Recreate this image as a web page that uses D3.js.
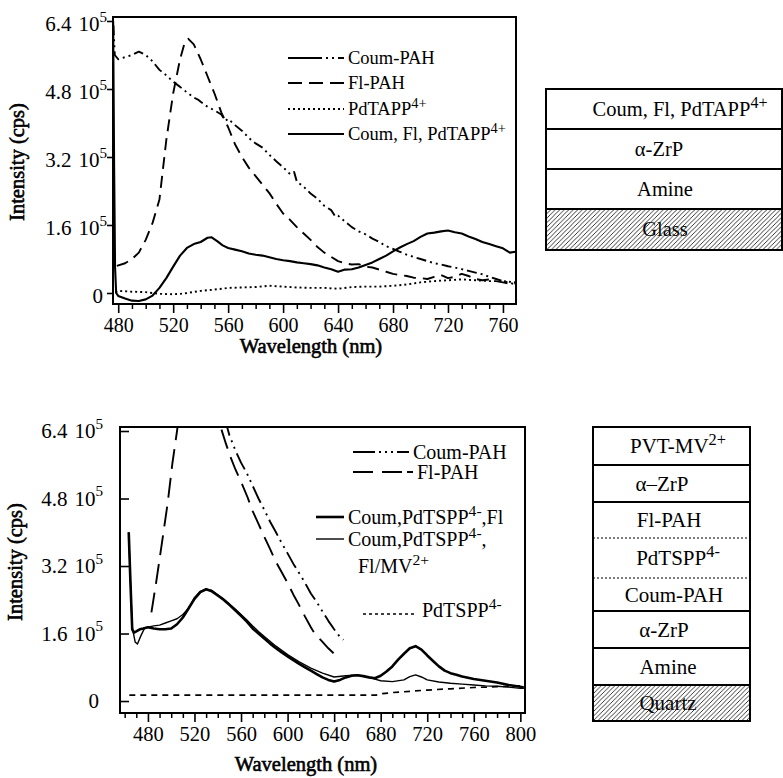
<!DOCTYPE html>
<html><head><meta charset="utf-8">
<script src="https://cdn.jsdelivr.net/npm/d3@7"></script>
<style>
html,body{margin:0;padding:0;background:#fff;}
svg{display:block;}
svg text{font-family:"Liberation Serif","DejaVu Serif",serif;fill:#000;}
</style></head>
<body><svg id="c" width="783" height="778" font-family="Liberation Serif"></svg>
<script>
// ---------------- DATA (intensity in units of 10^5 cps, wavelength in nm) ----------------
const topXTicks = [480, 520, 560, 600, 640, 680, 720, 760];
const botXTicks = [480, 520, 560, 600, 640, 680, 720, 760, 800];
const yTicks = [0, 1.6, 3.2, 4.8, 6.4];
const yTickLabels = ["0", "1.6", "3.2", "4.8", "6.4"];

const topCoumPAH = [[476.5,6.3],[477.5,5.6],[480,5.5],[485,5.55],[490,5.6],[495,5.68],[500,5.6],[505,5.45],[510,5.25],[515,5.12],[520,4.97],[525,4.85],[530,4.72],[535,4.6],[538,4.55],[540,4.5],[545,4.38],[550,4.3],[555,4.2],[558,4.05],[560,4.1],[565,3.95],[570,3.82],[575,3.65],[580,3.52],[585,3.42],[590,3.25],[595,3.1],[600,2.96],[605,2.8],[608,2.85],[610,2.62],[615,2.5],[620,2.34],[625,2.22],[630,2.05],[635,1.95],[638,1.8],[640,1.82],[645,1.68],[650,1.55],[655,1.45],[660,1.38],[665,1.28],[670,1.2],[675,1.1],[680,1.04],[685,0.97],[690,0.9],[695,0.85],[700,0.8],[705,0.75],[710,0.7],[715,0.67],[720,0.63],[725,0.6],[730,0.56],[735,0.52],[740,0.48],[745,0.44],[750,0.38],[755,0.33],[760,0.28],[765,0.24],[769,0.2]];
const topFlPAH = [[479,0.64],[485,0.7],[490,0.8],[495,0.95],[500,1.25],[505,1.65],[510,2.2],[515,3.6],[520,4.7],[525,5.5],[528,5.85],[531,5.98],[535,5.85],[540,5.5],[545,5.1],[550,4.7],[555,4.25],[560,3.9],[565,3.5],[570,3.2],[575,2.95],[580,2.75],[585,2.55],[590,2.35],[595,2.1],[600,1.87],[605,1.72],[610,1.55],[615,1.4],[620,1.25],[625,1.08],[630,0.95],[635,0.85],[640,0.75],[645,0.7],[650,0.67],[655,0.68],[660,0.62],[665,0.6],[670,0.55],[675,0.5],[680,0.45],[685,0.42],[690,0.4],[695,0.36],[700,0.35],[705,0.33],[710,0.38],[715,0.42],[720,0.35],[725,0.38],[730,0.45],[735,0.4],[740,0.33],[745,0.3],[750,0.32],[755,0.28],[760,0.25],[765,0.22],[769,0.22]];
const topPdTAPP = [[478,0.02],[480,0.05],[490,0.03],[500,0.02],[510,-0.02],[520,-0.03],[525,-0.02],[530,0.0],[540,0.05],[550,0.08],[560,0.12],[570,0.13],[580,0.14],[590,0.17],[600,0.15],[610,0.13],[620,0.12],[630,0.12],[640,0.1],[650,0.14],[660,0.15],[670,0.15],[680,0.17],[690,0.2],[700,0.25],[710,0.28],[720,0.3],[730,0.32],[740,0.3],[750,0.28],[760,0.28],[769,0.25]];
const topCombined = [[476.3,6.4],[477,3.0],[477.7,0.6],[478.5,0.0],[480,-0.07],[485,-0.13],[490,-0.18],[495,-0.19],[500,-0.15],[505,-0.06],[510,0.12],[515,0.35],[520,0.62],[525,0.88],[530,1.06],[535,1.15],[540,1.2],[545,1.3],[548,1.31],[552,1.22],[556,1.12],[560,1.06],[565,1.02],[570,0.98],[575,0.93],[580,0.9],[585,0.88],[590,0.84],[595,0.8],[600,0.77],[605,0.75],[610,0.72],[615,0.7],[620,0.68],[625,0.65],[630,0.6],[635,0.56],[640,0.5],[645,0.55],[650,0.56],[655,0.6],[660,0.66],[665,0.72],[670,0.8],[675,0.88],[680,0.98],[685,1.07],[690,1.15],[695,1.22],[700,1.32],[705,1.4],[710,1.42],[715,1.45],[720,1.47],[725,1.43],[730,1.4],[735,1.33],[740,1.27],[745,1.2],[750,1.15],[755,1.1],[760,1.05],[765,0.95],[769,0.97]];

const botCoumPAH = [[546,6.7],[550,6.3],[555,5.95],[560,5.65],[565,5.4],[570,5.1],[575,4.8],[580,4.53],[585,4.25],[590,4.0],[595,3.74],[600,3.5],[605,3.25],[610,3.03],[615,2.8],[620,2.55],[625,2.35],[630,2.12],[635,1.9],[640,1.7],[645,1.52],[648,1.45]];
const botFlPAH = [[483,2.1],[487,2.8],[492,3.74],[497,4.7],[501,5.63],[505,6.4],[510,7.5],[525,9.0],[540,7.0],[543,6.45],[547,6.1],[551,5.78],[555,5.5],[560,5.2],[565.6,4.83],[570,4.5],[575,4.2],[580,3.89],[585,3.6],[590,3.3],[594,3.1],[600,2.8],[605,2.52],[609,2.32],[615,2.0],[620,1.75],[623,1.61],[630,1.4],[635,1.25],[640,1.12],[645,1.02]];
const botCoumPdFl = [[463.5,4.0],[465,2.8],[466.5,1.7],[468,1.62],[470,1.65],[473,1.7],[476,1.72],[480,1.75],[485,1.72],[490,1.7],[495,1.7],[500,1.72],[505,1.82],[510,1.98],[515,2.2],[520,2.42],[525,2.58],[530,2.65],[535,2.6],[540,2.5],[545,2.4],[550,2.28],[555,2.15],[560,2.02],[565,1.88],[570,1.72],[575,1.6],[580,1.48],[585,1.36],[590,1.25],[595,1.15],[600,1.06],[605,0.97],[610,0.88],[615,0.8],[620,0.72],[625,0.64],[630,0.56],[635,0.5],[640,0.46],[645,0.5],[650,0.56],[655,0.6],[660,0.61],[665,0.59],[670,0.56],[675,0.54],[680,0.6],[685,0.7],[690,0.82],[695,0.98],[700,1.12],[705,1.25],[710,1.3],[715,1.22],[720,1.08],[725,0.95],[730,0.82],[735,0.72],[740,0.66],[745,0.62],[750,0.58],[760,0.52],[770,0.48],[780,0.44],[790,0.38],[800,0.34],[803,0.32]];
const botCoumPdFlMV = [[463.5,4.0],[465,2.8],[466.5,1.75],[469,1.4],[471,1.35],[474,1.55],[477,1.72],[480,1.75],[485,1.78],[490,1.8],[495,1.85],[500,1.9],[505,1.95],[510,2.05],[515,2.2],[520,2.45],[525,2.6],[530,2.65],[535,2.62],[540,2.52],[545,2.42],[550,2.3],[555,2.18],[560,2.05],[565,1.92],[570,1.78],[575,1.65],[580,1.53],[590,1.3],[600,1.1],[610,0.93],[620,0.78],[630,0.66],[640,0.57],[650,0.6],[660,0.62],[670,0.56],[675,0.52],[680,0.48],[690,0.46],[700,0.5],[705,0.58],[710,0.62],[715,0.57],[720,0.5],[730,0.45],[740,0.42],[750,0.4],[760,0.38],[770,0.36],[780,0.35],[790,0.33],[800,0.3],[803,0.3]];
const botPdTSPP = [[464,0.14],[500,0.14],[550,0.14],[600,0.14],[650,0.14],[676,0.14],[680,0.17],[690,0.2],[700,0.22],[720,0.26],[740,0.29],[760,0.32],[780,0.34],[803,0.36]];

const topLayers = [[{t:"Coum, Fl, PdTAPP"},{t:"4+",sup:true}],[{t:"α-ZrP"}],[{t:"Amine"}],[{t:"Glass"}]];
const botLayers = [[{t:"PVT-MV"},{t:"2+",sup:true}],[{t:"α–ZrP"}],[{t:"Fl-PAH"}],[{t:"PdTSPP"},{t:"4-",sup:true}],[{t:"Coum-PAH"}],[{t:"α-ZrP"}],[{t:"Amine"}],[{t:"Quartz"}]];

// ---------------- DRAWING ----------------
const FONT = "Liberation Serif";
const svg = d3.select("#c");
const defs = svg.append("defs");
const hatch = defs.append("pattern").attr("id","hatch").attr("patternUnits","userSpaceOnUse")
  .attr("width",4.5).attr("height",4.5);
hatch.append("path").attr("d","M-1,1 l2,-2 M0,4.5 l4.5,-4.5 M3.5,5.5 l2,-2")
  .attr("stroke","#222").attr("stroke-width",0.9);

function txt(parent) {
  return parent.append("text").attr("font-family", FONT).attr("fill", "#000");
}
function rich(sel, parts, fs) {
  let raised = false;
  parts.forEach(p => {
    const ts = sel.append("tspan").text(p.t);
    if (p.sup) { ts.attr("dy", -fs*0.4).attr("font-size", fs*0.78); raised = true; }
    else if (raised) { ts.attr("dy", fs*0.4); raised = false; }
  });
}

function chart(cfg) {
  const g = svg.append("g");
  const x = d3.scaleLinear().domain(cfg.xDom).range([cfg.L, cfg.R]);
  const y = d3.scaleLinear().domain(cfg.yDom).range([cfg.B, cfg.T]);
  const cid = "clip" + cfg.id;
  defs.append("clipPath").attr("id", cid).append("rect")
    .attr("x", cfg.L).attr("y", cfg.T).attr("width", cfg.R-cfg.L).attr("height", cfg.B-cfg.T);

  // x axis: minor + major ticks
  const minor = d3.range(Math.ceil(cfg.xDom[0]/10)*10, cfg.xDom[1], 10).filter(v => !cfg.xTicks.includes(v));
  g.append("g").attr("transform", `translate(0,${cfg.B})`)
    .call(d3.axisBottom(x).tickValues(minor).tickSize(5).tickFormat(""))
    .call(s => s.select(".domain").remove())
    .selectAll("line").attr("stroke","#000").attr("stroke-width",1.5);
  const xa = g.append("g").attr("transform", `translate(0,${cfg.B})`)
    .call(d3.axisBottom(x).tickValues(cfg.xTicks).tickSize(9).tickPadding(cfg.xPad));
  xa.attr("font-family", FONT).attr("font-size", cfg.xTickFs);
  xa.select(".domain").remove();
  xa.selectAll("line").attr("stroke","#000").attr("stroke-width",1.6);
  xa.selectAll("text").attr("font-size", cfg.xTickFs).attr("font-family", FONT).attr("fill","#000");

  // y axis ticks
  const ya = g.append("g").attr("transform", `translate(${cfg.L},0)`)
    .call(d3.axisLeft(y).tickValues(yTicks).tickSize(cfg.yTickIn ? -9 : 6).tickFormat(""));
  ya.select(".domain").remove();
  ya.selectAll("line").attr("stroke","#000").attr("stroke-width",1.6);
  yTicks.forEach((v, i) => {
    const t = txt(g).attr("text-anchor","end")
      .attr("x", cfg.L - cfg.yLabGap).attr("y", y(v) + cfg.yLabDy)
      .attr("font-size", cfg.yTickFs);
    if (v === 0) { t.attr("x", cfg.L - cfg.yLabGap - 4).text("0"); return; }
    t.append("tspan").text(yTickLabels[i]);
    t.append("tspan").attr("dx", 7).text("10");
    t.append("tspan").attr("dy", -cfg.yTickFs*0.45).attr("font-size", cfg.yTickFs*0.72).text("5");
  });

  // frame
  g.append("rect").attr("x", cfg.L).attr("y", cfg.T).attr("width", cfg.R-cfg.L).attr("height", cfg.B-cfg.T)
    .attr("fill","none").attr("stroke","#000").attr("stroke-width",2);

  // series
  const line = d3.line().x(d => x(d[0])).y(d => y(d[1]));
  const pg = g.append("g").attr("clip-path", `url(#${cid})`);
  cfg.series.forEach(s => {
    pg.append("path").datum(s.data).attr("d", line).attr("fill","none")
      .attr("stroke","#000").attr("stroke-width", s.w).attr("stroke-dasharray", s.dash || null)
      .attr("stroke-linejoin","round");
  });

  // legend
  cfg.legend.forEach(l => {
    if (l.x1 !== undefined) {
      g.append("line").attr("x1", l.x1).attr("x2", l.x2).attr("y1", l.ly).attr("y2", l.ly)
        .attr("stroke","#000").attr("stroke-width", l.w).attr("stroke-dasharray", l.dash || null);
    }
    const t = txt(g).attr("x", l.tx).attr("y", l.ty).attr("font-size", cfg.legFs);
    rich(t, l.parts, cfg.legFs);
  });

  // axis titles (heavy serif)
  txt(g).attr("x", cfg.xtX).attr("y", cfg.xtY).attr("text-anchor","middle")
    .attr("font-size", 20.5).attr("stroke","#000").attr("stroke-width",0.6).text("Wavelength (nm)");
  txt(g).attr("transform", `translate(${cfg.ytX},${cfg.ytY}) rotate(-90)`).attr("text-anchor","middle")
    .attr("font-size", 20.5).attr("stroke","#000").attr("stroke-width",0.6).text("Intensity (cps)");
}

chart({
  id: "top", L: 113, R: 516, T: 17, B: 304, xDom: [476.2, 769.5], yDom: [-0.259, 6.494],
  xTickFs: 20, yTickFs: 21, xPad: 5, yTickIn: false, yLabGap: 6, yLabDy: 10,
  xTicks: topXTicks, legFs: 18.5, xtX: 311, xtY: 353, ytX: 24, ytY: 162,
  series: [
    {data: topCoumPAH, w: 1.9, dash: "10,4,2,4,2,4"},
    {data: topFlPAH, w: 1.9, dash: "12,7"},
    {data: topPdTAPP, w: 1.9, dash: "2,3"},
    {data: topCombined, w: 2.1}
  ],
  legend: [
    {x1: 288, x2: 344, ly: 58, w: 1.8, dash: "34,4,2,4,2,4", tx: 348, ty: 64, parts: [{t:"Coum-PAH"}]},
    {x1: 288, x2: 344, ly: 83, w: 1.8, dash: "14,7", tx: 348, ty: 89, parts: [{t:"Fl-PAH"}]},
    {x1: 288, x2: 344, ly: 109, w: 1.8, dash: "2,3", tx: 348, ty: 115, parts: [{t:"PdTAPP"},{t:"4+",sup:true}]},
    {x1: 288, x2: 344, ly: 134, w: 2, tx: 348, ty: 140, parts: [{t:"Coum, Fl, PdTAPP"},{t:"4+",sup:true}]}
  ]
});

chart({
  id: "bot", L: 120, R: 525, T: 427, B: 713, xDom: [456, 804], yDom: [-0.284, 6.495],
  xTickFs: 20.5, yTickFs: 21, xPad: 4, yTickIn: true, yLabGap: 17, yLabDy: 7,
  xTicks: botXTicks, legFs: 20, xtX: 306, xtY: 771, ytX: 22, ytY: 562,
  series: [
    {data: botCoumPAH, w: 1.9, dash: "18,5,2,5,2,5"},
    {data: botFlPAH, w: 1.9, dash: "20,9"},
    {data: botPdTSPP, w: 1.7, dash: "6,5"},
    {data: botCoumPdFlMV, w: 1.4},
    {data: botCoumPdFl, w: 2.6}
  ],
  legend: [
    {x1: 353, x2: 409, ly: 452, w: 1.8, dash: "22,4,2,4,2,4,2,4", tx: 413, ty: 459, parts: [{t:"Coum-PAH"}]},
    {x1: 353, x2: 413, ly: 472, w: 1.8, dash: "20,9,20,5", tx: 417, ty: 479, parts: [{t:"Fl-PAH"}]},
    {x1: 316, x2: 344, ly: 517, w: 2.6, tx: 348, ty: 524, parts: [{t:"Coum,PdTSPP"},{t:"4-",sup:true},{t:",Fl"}]},
    {x1: 316, x2: 344, ly: 539, w: 1.4, tx: 348, ty: 546, parts: [{t:"Coum,PdTSPP"},{t:"4-",sup:true},{t:","}]},
    {tx: 358, ty: 573, parts: [{t:"Fl/MV"},{t:"2+",sup:true}]},
    {x1: 363, x2: 416, ly: 614, w: 1.6, dash: "3,3", tx: 422, ty: 617, parts: [{t:"PdTSPP"},{t:"4-",sup:true}]}
  ]
});

// ---------------- LAYER DIAGRAMS ----------------
function stack(cfg) {
  const g = svg.append("g");
  const n = cfg.labels.length;
  cfg.labels.forEach((parts, i) => {
    const y0 = cfg.edges[i], y1 = cfg.edges[i+1];
    const t = txt(g).attr("x", cfg.cx[i]).attr("y", (y0+y1)/2 + cfg.fs*0.34)
      .attr("text-anchor","middle").attr("font-size", cfg.fs);
    rich(t, parts, cfg.fs);
    if (i === n-1) {
      g.append("rect").attr("x", cfg.L).attr("y", y0).attr("width", cfg.R-cfg.L).attr("height", y1-y0)
        .attr("fill","url(#hatch)");
    }
    if (i > 0) {
      g.append("line").attr("x1", cfg.L).attr("x2", cfg.R).attr("y1", y0).attr("y2", y0)
        .attr("stroke","#000").attr("stroke-width", cfg.dotted.includes(i) ? 1.2 : 2)
        .attr("stroke-dasharray", cfg.dotted.includes(i) ? "2,2" : null);
    }
  });
  g.append("rect").attr("x", cfg.L).attr("y", cfg.T).attr("width", cfg.R-cfg.L).attr("height", cfg.B-cfg.T)
    .attr("fill","none").attr("stroke","#000").attr("stroke-width",2);
}

stack({labels: topLayers, L: 546, R: 782, T: 89, B: 250, edges: [89,129,169,209,250],
  cx: [680, 659, 665, 665], fs: 20.5, dotted: []});
stack({labels: botLayers, L: 593, R: 750, T: 427, B: 721, edges: [427,465,502,538,578,611,648,685,721],
  cx: [678, 662, 669, 678, 674, 664, 668, 668], fs: 21, dotted: [3,4]});
</script></body></html>
